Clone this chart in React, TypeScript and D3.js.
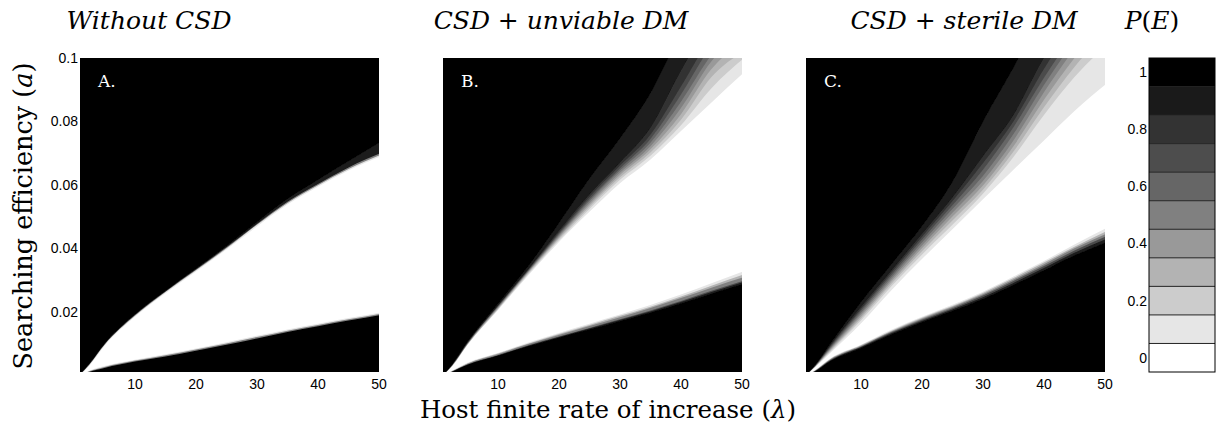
import * as React from "react";
import * as d3 from "d3";

// host finite rate of increase, sample points of the contour lines
const LAMBDA = [1, 2.5, 5, 10, 15, 20, 25, 30, 35, 40, 45, 50];

const X_TICKS = [10, 20, 30, 40, 50];
const Y_TICKS = [0.02, 0.04, 0.06, 0.08, 0.1];
const P_TICKS = [0, 0.2, 0.4, 0.6, 0.8, 1];
const P_BANDS = [0, 0.1, 0.2, 0.3, 0.4, 0.5, 0.6, 0.7, 0.8, 0.9, 1];

const TITLES = ["Without CSD", "CSD + unviable DM", "CSD + sterile DM"];
const TAGS = ["A.", "B.", "C."];

// P(E) contour lines, searching efficiency a at each LAMBDA.
// upper = edge of the top black zone, lower = edge of the bottom black zone
const A_UPPER_LEVELS = [0.05, 0.45, 0.85, 0.95];
const A_UPPER = [
  [-0.001, 0.0029, 0.0092, 0.0184, 0.0258, 0.0327, 0.0396, 0.0469, 0.0538, 0.0594, 0.0645, 0.0693],
  [-0.001, 0.0032, 0.0095, 0.0187, 0.0262, 0.0331, 0.04, 0.0474, 0.0543, 0.0599, 0.065, 0.0698],
  [-0.001, 0.0034, 0.0097, 0.019, 0.0264, 0.0333, 0.0403, 0.0477, 0.0547, 0.0603, 0.0655, 0.0703],
  [-0.001, 0.0036, 0.0099, 0.0192, 0.0266, 0.0336, 0.0407, 0.0483, 0.0556, 0.0616, 0.0675, 0.074],
];
const A_LOWER_LEVELS = [0.05, 0.45, 0.95];
const A_LOWER = [
  [-0.001, 0.0014, 0.0029, 0.0049, 0.0066, 0.0084, 0.0104, 0.0124, 0.0144, 0.0162, 0.018, 0.0199],
  [-0.001, 0.0012, 0.0026, 0.0046, 0.0063, 0.0081, 0.01, 0.012, 0.014, 0.0158, 0.0176, 0.0195],
  [-0.001, 0.001, 0.0023, 0.0043, 0.0059, 0.0077, 0.0096, 0.0116, 0.0136, 0.0154, 0.0172, 0.0191],
];

const B_UPPER_LEVELS = [0.05, 0.15, 0.25, 0.35, 0.45, 0.55, 0.65, 0.75, 0.85, 0.95];
const B_UPPER = [
  [-0.001, 0.0028, 0.0095, 0.0205, 0.0315, 0.042, 0.0515, 0.0605, 0.068, 0.077, 0.086, 0.096],
  [-0.001, 0.0029, 0.0096, 0.0207, 0.0319, 0.0425, 0.0524, 0.0616, 0.0692, 0.0788, 0.0905, 0.1005],
  [-0.001, 0.003, 0.0097, 0.0209, 0.0322, 0.043, 0.0531, 0.0624, 0.0702, 0.0805, 0.094, 0.1025],
  [-0.001, 0.003, 0.0098, 0.0211, 0.0325, 0.0434, 0.0537, 0.0631, 0.0712, 0.0823, 0.0965, 0.106],
  [-0.001, 0.0031, 0.0099, 0.0213, 0.0327, 0.0438, 0.0543, 0.0638, 0.0722, 0.0842, 0.099, 0.109],
  [-0.001, 0.0031, 0.01, 0.0215, 0.0329, 0.0442, 0.0549, 0.0645, 0.0733, 0.0862, 0.101, 0.1125],
  [-0.001, 0.0032, 0.0101, 0.0217, 0.0331, 0.0446, 0.0555, 0.0652, 0.0745, 0.0885, 0.104, 0.116],
  [-0.001, 0.0032, 0.0102, 0.0219, 0.0333, 0.045, 0.0562, 0.066, 0.0758, 0.091, 0.107, 0.12],
  [-0.001, 0.0033, 0.0103, 0.022, 0.0335, 0.0455, 0.057, 0.067, 0.078, 0.096, 0.112, 0.126],
  [-0.001, 0.0034, 0.0105, 0.0225, 0.0345, 0.048, 0.062, 0.0747, 0.089, 0.108, 0.125, 0.14],
];
const B_LOWER_LEVELS = [0.05, 0.25, 0.45, 0.65, 0.85, 0.95];
const B_LOWER = [
  [-0.001, 0.0014, 0.0039, 0.007, 0.0103, 0.0133, 0.0162, 0.0191, 0.0221, 0.0254, 0.029, 0.033],
  [-0.001, 0.0013, 0.0037, 0.0068, 0.01, 0.013, 0.0158, 0.0187, 0.0216, 0.0248, 0.0282, 0.032],
  [-0.001, 0.0012, 0.0036, 0.0066, 0.0098, 0.0127, 0.0155, 0.0183, 0.0212, 0.0243, 0.0276, 0.0311],
  [-0.001, 0.0011, 0.0034, 0.0063, 0.0094, 0.0122, 0.0149, 0.0176, 0.0204, 0.0234, 0.0266, 0.03],
  [-0.001, 0.0011, 0.0033, 0.0062, 0.0093, 0.012, 0.0147, 0.0174, 0.0201, 0.0231, 0.0262, 0.0296],
  [-0.001, 0.001, 0.0032, 0.0061, 0.0091, 0.0118, 0.0144, 0.017, 0.0197, 0.0226, 0.0257, 0.029],
];

const C_UPPER_LEVELS = [0.05, 0.15, 0.25, 0.35, 0.45, 0.55, 0.65, 0.75, 0.85, 0.95];
const C_UPPER = [
  [-0.001, 0.0025, 0.007, 0.0163, 0.0268, 0.0366, 0.046, 0.0555, 0.0648, 0.074, 0.0833, 0.0925],
  [-0.001, 0.0026, 0.0074, 0.0172, 0.028, 0.038, 0.0474, 0.0572, 0.0688, 0.082, 0.094, 0.1048],
  [-0.001, 0.0027, 0.0077, 0.0179, 0.0288, 0.0391, 0.0488, 0.0585, 0.0705, 0.0845, 0.0972, 0.109],
  [-0.001, 0.0028, 0.008, 0.0185, 0.0295, 0.04, 0.05, 0.0598, 0.0722, 0.0868, 0.1, 0.1128],
  [-0.001, 0.0028, 0.0083, 0.0191, 0.0302, 0.0409, 0.0512, 0.0612, 0.074, 0.0892, 0.1029, 0.1159],
  [-0.001, 0.0029, 0.0086, 0.0197, 0.0309, 0.0418, 0.0524, 0.0628, 0.076, 0.0915, 0.1054, 0.1189],
  [-0.001, 0.003, 0.0089, 0.0203, 0.0316, 0.0427, 0.0536, 0.0648, 0.0782, 0.0938, 0.1078, 0.1218],
  [-0.001, 0.003, 0.0092, 0.0209, 0.0323, 0.0436, 0.0548, 0.0668, 0.08, 0.0965, 0.1113, 0.1258],
  [-0.001, 0.0031, 0.0095, 0.0215, 0.033, 0.0445, 0.056, 0.069, 0.082, 0.1, 0.113, 0.128],
  [-0.001, 0.0032, 0.01, 0.023, 0.035, 0.047, 0.061, 0.08, 0.097, 0.115, 0.13, 0.145],
];
const C_LOWER_LEVELS = [0.05, 0.25, 0.45, 0.65, 0.85, 0.95];
const C_LOWER = [
  [-0.001, 0.0016, 0.0053, 0.0096, 0.0143, 0.0184, 0.0222, 0.0263, 0.0311, 0.036, 0.0412, 0.0468],
  [-0.001, 0.0015, 0.0051, 0.0094, 0.014, 0.0181, 0.0218, 0.0259, 0.0306, 0.0355, 0.0405, 0.0458],
  [-0.001, 0.0014, 0.005, 0.0092, 0.0138, 0.0178, 0.0215, 0.0255, 0.0302, 0.035, 0.04, 0.045],
  [-0.001, 0.0013, 0.0048, 0.009, 0.0135, 0.0175, 0.0211, 0.0251, 0.0297, 0.0344, 0.0393, 0.0442],
  [-0.001, 0.0012, 0.0046, 0.0088, 0.0132, 0.0171, 0.0207, 0.0246, 0.0291, 0.0338, 0.0386, 0.0433],
  [-0.001, 0.0011, 0.0044, 0.0085, 0.0128, 0.0167, 0.0202, 0.024, 0.0284, 0.033, 0.0377, 0.0422],
];

const PANELS = [
  { upLevels: A_UPPER_LEVELS, up: A_UPPER, lowLevels: A_LOWER_LEVELS, low: A_LOWER },
  { upLevels: B_UPPER_LEVELS, up: B_UPPER, lowLevels: B_LOWER_LEVELS, low: B_LOWER },
  { upLevels: C_UPPER_LEVELS, up: C_UPPER, lowLevels: C_LOWER_LEVELS, low: C_LOWER },
];

const W = 1217;
const H = 433;
const PANEL_X = [80, 443, 806];
const PANEL_W = 299;
const TOP = 58;
const BOTTOM = 372;
const CB_X = 1149;
const CB_W = 66;

const SANS = "'Liberation Sans', Arial, sans-serif";
const SERIF = "'DejaVu Serif', serif";

// colour of the band centred on value v
const grey = d3.scaleLinear<string>().domain([0, 1]).range(["#ffffff", "#000000"]);

function Panel({ i }: { i: number }) {
  const p = PANELS[i];
  const x0 = PANEL_X[i];
  const x = d3.scaleLinear().domain([1, 50]).range([x0, x0 + PANEL_W]);
  const y = d3.scaleLinear().domain([0.001, 0.1]).range([BOTTOM, TOP]);
  const n = LAMBDA.length;
  // stretch the ends a little so the blur does not fade the panel sides
  const px = (_: number, k: number) =>
    x(LAMBDA[k]) + (k === 0 ? -4 : k === n - 1 ? 4 : 0);
  const upArea = d3
    .area<number>()
    .x(px)
    .y0(TOP - 6)
    .y1((d) => y(d))
    .curve(d3.curveMonotoneX);
  const lowArea = d3
    .area<number>()
    .x(px)
    .y0(BOTTOM + 6)
    .y1((d) => y(d))
    .curve(d3.curveMonotoneX);

  return (
    <g>
      <clipPath id={`clip${i}`}>
        <rect x={x0} y={TOP} width={PANEL_W} height={BOTTOM - TOP} />
      </clipPath>
      <g clipPath={`url(#clip${i})`}>
        <g filter="url(#soft)">
          <rect x={x0 - 6} y={TOP - 6} width={PANEL_W + 12} height={BOTTOM - TOP + 12} fill="#fff" />
          {p.up.map((vals, k) => (
            <path key={`u${k}`} d={upArea(vals) || ""} fill={grey(p.upLevels[k] + 0.05)} />
          ))}
          {p.low.map((vals, k) => (
            <path key={`l${k}`} d={lowArea(vals) || ""} fill={grey(p.lowLevels[k] + 0.05)} />
          ))}
        </g>
      </g>
      <text x={x0 + 18} y={87} fontFamily={SERIF} fontSize={17} fill="#fff">
        {TAGS[i]}
      </text>
      {X_TICKS.map((t) => (
        <text key={t} x={x(t)} y={389} textAnchor="middle" fontFamily={SANS} fontSize={14}>
          {t}
        </text>
      ))}
      {i === 0 &&
        Y_TICKS.map((t) => (
          <text key={t} x={x0 - 2} y={y(t)} dy="0.35em" textAnchor="end" fontFamily={SANS} fontSize={14}>
            {t}
          </text>
        ))}
    </g>
  );
}

function ColorBar() {
  const cy = d3.scaleLinear().domain([-0.05, 1.05]).range([BOTTOM, TOP]);
  return (
    <g>
      {P_BANDS.map((v) => (
        <rect
          key={v}
          x={CB_X}
          y={cy(v + 0.05)}
          width={CB_W}
          height={cy(v - 0.05) - cy(v + 0.05)}
          fill={grey(v)}
        />
      ))}
      {P_BANDS.slice(1).map((v) => (
        <line key={v} x1={CB_X} x2={CB_X + CB_W} y1={cy(v - 0.05)} y2={cy(v - 0.05)} stroke="#222" strokeWidth={1} />
      ))}
      <rect x={CB_X} y={TOP} width={CB_W} height={BOTTOM - TOP} fill="none" stroke="#000" strokeWidth={1} />
      {P_TICKS.map((t) => (
        <text key={t} x={CB_X - 2} y={cy(t)} dy="0.35em" textAnchor="end" fontFamily={SANS} fontSize={14}>
          {t}
        </text>
      ))}
    </g>
  );
}

export default function App() {
  const titleX = [149, 561, 964];
  return (
    <svg width={W} height={H} style={{ position: "absolute", left: 0, top: 0, background: "#fff" }}>
      <defs>
        <filter id="soft" x="-5%" y="-5%" width="110%" height="110%">
          <feGaussianBlur stdDeviation={0.7} />
        </filter>
      </defs>
      {PANELS.map((_, i) => (
        <Panel key={i} i={i} />
      ))}
      <ColorBar />
      {TITLES.map((t, i) => (
        <text key={t} x={titleX[i]} y={29} textAnchor="middle" fontFamily={SERIF} fontStyle="italic" fontSize={25}>
          {t}
        </text>
      ))}
      <text x={1152} y={29} textAnchor="middle" fontFamily={SERIF} fontSize={25}>
        <tspan fontStyle="italic">P</tspan>(<tspan fontStyle="italic">E</tspan>)
      </text>
      <text transform="translate(32,216) rotate(-90)" textAnchor="middle" fontFamily={SERIF} fontSize={25.5}>
        Searching efficiency (<tspan fontStyle="italic">a</tspan>)
      </text>
      <text x={608} y={418} textAnchor="middle" fontFamily={SERIF} fontSize={24.5}>
        Host finite rate of increase (<tspan fontStyle="italic">λ</tspan>)
      </text>
    </svg>
  );
}
